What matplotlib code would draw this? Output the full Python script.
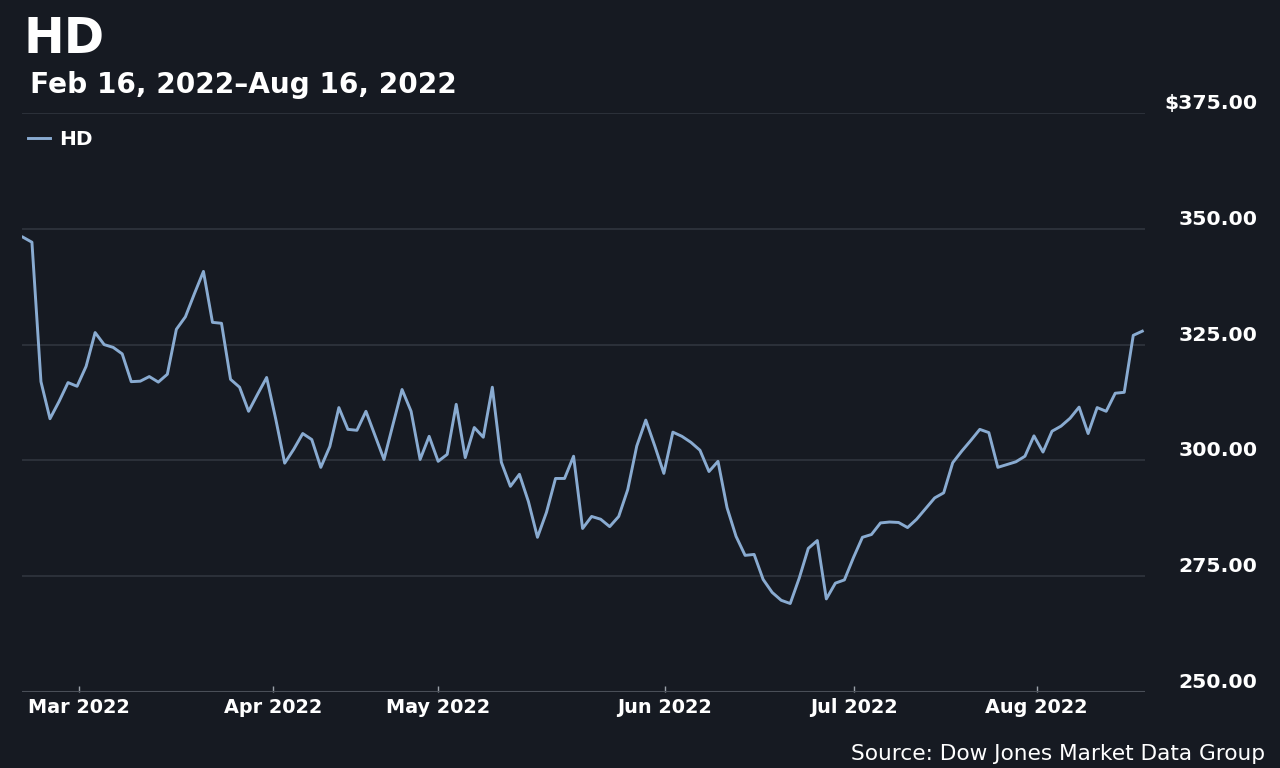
import numpy as np
import matplotlib.pyplot as plt

# daily closes, Feb 16 2022 - Aug 16 2022
price = [348.2, 347.1, 317.0, 309.0, 312.7, 316.8, 316.0, 320.3, 327.6, 325.0,
         324.4, 323.0, 317.0, 317.1, 318.1, 316.9, 318.6, 328.3, 331.0, 336.0,
         340.8, 329.8, 329.6, 317.5, 315.8, 310.6, 314.3, 317.9, 309.0, 299.4,
         302.4, 305.8, 304.5, 298.5, 303.0, 311.4, 306.7, 306.5, 310.6, 305.4,
         300.2, 307.8, 315.3, 310.6, 300.2, 305.2, 299.8, 301.3, 312.1, 300.6,
         307.1, 305.0, 315.8, 299.6, 294.4, 297.0, 291.1, 283.4, 288.8, 296.1,
         296.1, 300.9, 285.3, 287.9, 287.3, 285.7, 287.9, 293.7, 303.1, 308.7,
         303.1, 297.2, 306.1, 305.2, 303.9, 302.2, 297.6, 299.8, 289.8, 283.6,
         279.5, 279.7, 274.3, 271.5, 269.8, 269.1, 274.6, 281.0, 282.7, 270.1,
         273.5, 274.2, 279.0, 283.4, 284.0, 286.5, 286.7, 286.6, 285.5, 287.3,
         289.6, 291.9, 293.0, 299.5, 302.0, 304.3, 306.7, 306.0, 298.5, 299.1,
         299.7, 300.9, 305.3, 301.8, 306.3, 307.4, 309.1, 311.5, 305.8, 311.4,
         310.6, 314.5, 314.7, 327.0, 327.9]
month_pos = [6.2, 27.7, 46.0, 71.1, 92.1, 112.3]
month_lab = ['Mar 2022', 'Apr 2022', 'May 2022', 'Jun 2022', 'Jul 2022', 'Aug 2022']
yticks = [250, 275, 300, 325, 350, 375]

bg = '#161a22'
plt.rcParams['font.family'] = ['DejaVu Sans']

fig = plt.figure(figsize=(12.8, 7.68), dpi=100, facecolor=bg)
ax = fig.add_axes([22 / 1280, 1 - 692 / 768, (1145 - 22) / 1280, (692 - 113) / 768])
ax.set_facecolor(bg)

x = np.arange(len(price))
ax.plot(x, price, color='#89abd1', lw=2.1, label='HD', solid_joinstyle='round')

ax.set_xlim(-0.1, 124.3)
ax.set_ylim(250, 375)
for s in ax.spines.values():
    s.set_visible(False)

ax.set_yticks(yticks)
ax.set_yticklabels(['$%.2f' % v if v == 375 else '%.2f' % v for v in yticks])
ax.yaxis.tick_right()
ax.tick_params(axis='y', length=0, pad=81, labelsize=14.7, labelcolor='white')
for lab in ax.get_yticklabels():
    lab.set_ha('right')
    lab.set_va('bottom')
    lab.set_fontweight('bold')
ax.grid(axis='y', color='#30353e', lw=1.2)
ax.axhline(250, color='#4a4f58', lw=1.5)

ax.set_xticks(month_pos)
ax.set_xticklabels(month_lab)
ax.tick_params(axis='x', direction='in', length=4, width=1, color='#9aa0a8',
               labelsize=13.9, labelcolor='white', pad=4)
for lab in ax.get_xticklabels():
    lab.set_fontweight('bold')

fig.text(24 / 1280, 1 - 53 / 768, 'HD', color='white', fontsize=35,
         fontweight='bold', va='baseline')
fig.text(30 / 1280, 1 - 93 / 768, 'Feb 16, 2022\u2013Aug 16, 2022', color='white',
         fontsize=20.2, fontweight='bold', va='baseline')
ax.legend(loc='upper left', bbox_to_anchor=(10 / 1280, 1 - 112 / 768),
          bbox_transform=fig.transFigure, frameon=False, handlelength=1.1,
          handletextpad=0.45, labelcolor='white',
          prop={'weight': 'bold', 'size': 14.5})
fig.text(1265 / 1280, 1 - 760 / 768, 'Source: Dow Jones Market Data Group',
         color='white', fontsize=15.6, ha='right', va='baseline')

fig.savefig('out.png', dpi=100, facecolor=bg)
